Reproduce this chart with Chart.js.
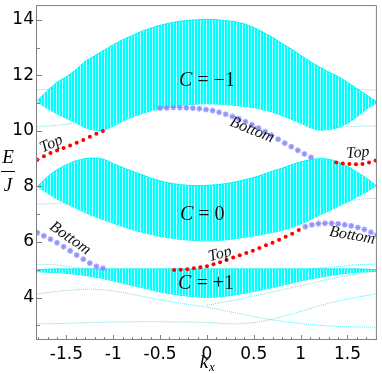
<!DOCTYPE html>
<html>
<head>
<meta charset="utf-8">
<script src="https://cdn.jsdelivr.net/npm/chart.js@4/dist/chart.umd.min.js"></script>
<style>
  html, body { margin: 0; padding: 0; background: #fff; }
  #c { display: block; }
</style>
</head>
<body>
<canvas id="c" width="382" height="374"></canvas>
<script>
// k_x samples used for the band edges
const kGrid = [-1.81,-1.7,-1.6,-1.5,-1.4,-1.3,-1.2,-1.1,-1.0,-0.9,-0.8,-0.7,-0.6,-0.5,-0.4,-0.3,-0.2,-0.1,0,
  0.1,0.2,0.3,0.4,0.5,0.6,0.7,0.8,0.9,1.0,1.1,1.2,1.3,1.4,1.5,1.6,1.7,1.81];

// bulk bands (upper / lower edge), E/J
const topBandHigh = [11.1,11.45,11.75,11.95,12.2,12.5,12.7,12.9,13.1,13.28,13.43,13.58,13.7,13.8,13.88,13.94,13.98,14.0,14.02,
  14.0,13.97,13.93,13.85,13.72,13.55,13.37,13.15,12.95,12.72,12.5,12.3,12.12,11.95,11.75,11.52,11.3,11.05];
const topBandLow = [11.05,10.8,10.62,10.45,10.3,10.12,10.03,10.03,10.18,10.35,10.5,10.62,10.72,10.8,10.86,10.9,10.94,10.97,10.98,
  10.97,10.95,10.92,10.88,10.84,10.76,10.68,10.55,10.42,10.28,10.12,10.03,10.05,10.12,10.28,10.5,10.78,11.0];
const midBandHigh = [8.0,8.35,8.6,8.78,8.92,9.0,9.02,8.97,8.82,8.68,8.55,8.43,8.3,8.2,8.12,8.07,8.04,8.03,8.04,
  8.06,8.1,8.16,8.24,8.32,8.43,8.55,8.65,8.78,8.88,8.96,9.0,8.98,8.88,8.72,8.52,8.3,8.02];
const midBandLow = [8.0,7.75,7.55,7.38,7.22,7.06,6.92,6.8,6.68,6.56,6.45,6.36,6.28,6.2,6.15,6.1,6.07,6.05,6.04,
  6.05,6.08,6.12,6.17,6.22,6.28,6.35,6.42,6.52,6.65,6.8,6.97,7.12,7.28,7.45,7.62,7.8,8.03];
const lowBandHigh = [5.0,5.02,5.03,5.03,5.03,5.03,5.03,5.03,5.03,5.03,5.03,5.03,5.03,5.03,5.03,5.03,5.03,5.03,5.03,
  5.03,5.03,5.03,5.03,5.03,5.03,5.03,5.03,5.03,5.03,5.03,5.03,5.03,5.03,5.03,5.03,5.02,5.0];
const lowBandLow = [4.93,4.91,4.9,4.87,4.84,4.8,4.74,4.68,4.6,4.52,4.44,4.36,4.28,4.2,4.14,4.09,4.05,4.02,4.01,
  4.02,4.05,4.1,4.15,4.22,4.29,4.36,4.44,4.52,4.6,4.67,4.73,4.79,4.84,4.88,4.91,4.93,4.95];

// isolated bulk levels (thin lines)
const thinLines = [
  { k: [-1.81,-1.7,-1.62], e: [11.48,11.5,11.55] },
  { k: [-1.81,-1.6,-1.4], e: [10.15,10.2,10.28] },
  { k: [1.5,1.6,1.7,1.81], e: [11.55,11.5,11.48,11.47] },
  { k: [1.35,1.5,1.65,1.81], e: [10.12,10.15,10.17,10.18] },
  { k: [-1.81,-1.65,-1.45], e: [7.36,7.38,7.42] },
  { k: [1.5,1.65,1.81], e: [7.45,7.55,7.57] },
  { k: [-1.81,-1.6,-1.4,-1.25], e: [5.2,5.17,5.08,5.03] },
  { k: [1.1,1.35,1.6,1.81], e: [5.03,5.1,5.18,5.2] },
  { k: [-1.81,-1.5,-1.2,-0.9,-0.6,-0.3,0,0.3,0.6,0.9,1.2,1.5,1.81], e: [4.13,4.25,4.3,4.18,3.98,3.8,3.65,3.45,3.25,3.1,3.0,2.95,2.93] },
  { k: [-1.81,-1.5,-1.2,-0.9,-0.6,-0.3,0,0.3,0.6,0.9,1.2,1.5,1.81], e: [3.05,3.07,3.1,3.12,3.13,3.12,3.1,3.05,3.15,3.4,3.7,3.95,4.13] },
  { k: [0,0.4,0.8,1.2,1.5,1.81], e: [3.72,3.98,4.28,4.58,4.8,4.95] }
];

// edge states
const topLeftK = [-1.81,-1.74,-1.67,-1.6,-1.53,-1.46,-1.39,-1.32,-1.25,-1.18,-1.11];
const topLeftE = [8.96,9.09,9.2,9.29,9.38,9.47,9.57,9.67,9.79,9.9,10.0];
const topRightK = [1.38,1.45,1.52,1.59,1.66,1.73,1.80];
const topRightE = [8.86,8.83,8.81,8.8,8.81,8.86,8.93];
const bottomUpperK = [-0.5,-0.43,-0.36,-0.29,-0.22,-0.15,-0.08,-0.01,0.06,0.13,0.2,0.27,0.34,0.41,0.48,0.55,0.62,0.69,0.76,0.83,0.9,0.97,1.04,1.11];
const bottomUpperE = [10.82,10.83,10.84,10.84,10.83,10.82,10.8,10.77,10.73,10.67,10.6,10.52,10.44,10.33,10.22,10.1,9.97,9.84,9.7,9.56,9.43,9.3,9.17,9.05];
const topLowK = [-0.35,-0.28,-0.21,-0.14,-0.07,0,0.07,0.14,0.21,0.28,0.35,0.42,0.49,0.56,0.63,0.7,0.77,0.84,0.91,0.98];
const topLowE = [4.99,5.0,5.02,5.05,5.09,5.13,5.2,5.27,5.35,5.44,5.52,5.6,5.68,5.78,5.88,5.97,6.08,6.19,6.3,6.43];
const bottomLowRightK = [1.05,1.12,1.19,1.26,1.33,1.4,1.47,1.54,1.61,1.68,1.75,1.81];
const bottomLowRightE = [6.55,6.62,6.66,6.67,6.67,6.65,6.62,6.58,6.52,6.45,6.35,6.25];
const bottomLowLeftK = [-1.81,-1.74,-1.67,-1.6,-1.53,-1.46,-1.39,-1.32,-1.25,-1.18,-1.11];
const bottomLowLeftE = [6.33,6.22,6.1,5.97,5.83,5.68,5.53,5.38,5.24,5.12,5.05];

const xTickLabels = [-1.5,-1,-0.5,0,0.5,1,1.5];
const yTickLabels = [4,6,8,10,12,14];

const kMax = 1.8138;

// text on the plot, anchored in data coordinates
const notes = [
  { parts: [['C', true], [' = ', false], ['\u22121', false]], k: 0.0, e: 11.8, rot: 0, size: 20 },
  { parts: [['C', true], [' = ', false], ['0', false]], k: -0.05, e: 6.98, rot: 0, size: 20 },
  { parts: [['C', true], [' = ', false], ['+1', false]], k: -0.01, e: 4.5, rot: 0, size: 20 },
  { parts: [['Top', true]], k: -1.66, e: 9.53, rot: -25, size: 16 },
  { parts: [['Bottom', true]], k: 0.48, e: 10.03, rot: 22, size: 16 },
  { parts: [['Top', true]], k: 1.61, e: 9.21, rot: -5, size: 16 },
  { parts: [['Bottom', true]], k: -1.46, e: 6.13, rot: 35, size: 16 },
  { parts: [['Top', true]], k: 0.14, e: 5.56, rot: -15, size: 16 },
  { parts: [['Bottom', true]], k: 1.55, e: 6.23, rot: 10, size: 16 }
];

const zip = (ks, es) => ks.map((k, i) => ({ x: k, y: es[i] }));

const canvas = document.getElementById('c');
const ctx = canvas.getContext('2d');

// striped cyan fill, like the dense vertical level lines
const pc = document.createElement('canvas');
pc.width = 3; pc.height = 1;
const pctx = pc.getContext('2d');
pctx.fillStyle = '#00ffff'; pctx.fillRect(0, 0, 2, 1);
pctx.fillStyle = '#b8ffff'; pctx.fillRect(2, 0, 1, 1);
const stripes = ctx.createPattern(pc, 'repeat');

const datasets = [];

// edge states on top
const redDots = { pointRadius: 2, pointBackgroundColor: '#ff0000', pointBorderWidth: 0, showLine: false, order: 0 };
const blueStars = { pointStyle: 'star', pointRadius: 2.8, pointBorderColor: 'rgba(120,120,255,0.75)', pointBorderWidth: 1.1, showLine: false, order: 0 };
const blueHalo = { pointRadius: 3, pointBackgroundColor: 'rgba(190,190,255,0.5)', pointBorderWidth: 0, showLine: false, order: 1 };
datasets.push(Object.assign({ data: zip(topLeftK, topLeftE) }, redDots));
datasets.push(Object.assign({ data: zip(topRightK, topRightE) }, redDots));
datasets.push(Object.assign({ data: zip(topLowK, topLowE) }, redDots));
[[bottomUpperK, bottomUpperE], [bottomLowRightK, bottomLowRightE], [bottomLowLeftK, bottomLowLeftE]].forEach(([k, e]) => {
  datasets.push(Object.assign({ data: zip(k, e) }, blueStars));
  datasets.push(Object.assign({ data: zip(k, e) }, blueHalo));
});

thinLines.forEach(l => {
  datasets.push({ data: zip(l.k, l.e), showLine: true, pointRadius: 0, borderColor: 'rgba(0,220,235,0.65)',
    borderWidth: 1, borderDash: [1, 1], tension: 0.35, fill: false, order: 2 });
});

[[topBandHigh, topBandLow], [midBandHigh, midBandLow], [lowBandHigh, lowBandLow]].forEach(([hi, lo]) => {
  datasets.push({ data: zip(kGrid, hi), showLine: true, pointRadius: 0, borderColor: '#00f0f0', borderWidth: 1,
    tension: 0.3, fill: '+1', backgroundColor: stripes, order: 3 });
  datasets.push({ data: zip(kGrid, lo), showLine: true, pointRadius: 0, borderColor: '#00f0f0', borderWidth: 1,
    tension: 0.3, fill: false, order: 3 });
});

const decor = {
  id: 'decor',
  afterDraw(chart) {
    const c = chart.ctx, a = chart.chartArea, xs = chart.scales.x, ys = chart.scales.y;
    c.save();
    c.strokeStyle = '#808080';
    c.lineWidth = 1;
    c.strokeRect(a.left - 0.5, a.top + 0.5, a.right - a.left, a.bottom - a.top - 1);
    // inward ticks
    c.beginPath();
    for (let i = -18; i <= 18; i++) {
      const v = i / 10;
      const px = Math.round(xs.getPixelForValue(v)) + 0.5;
      const len = (i % 5 === 0) ? 5 : 3;
      c.moveTo(px, a.bottom); c.lineTo(px, a.bottom - len);
    }
    for (let v = 3; v <= 14; v++) {
      const py = Math.round(ys.getPixelForValue(v)) + 0.5;
      const len = (v % 2 === 0) ? 5 : 3;
      c.moveTo(a.left, py); c.lineTo(a.left + len, py);
    }
    c.stroke();

    // annotations
    c.fillStyle = '#111';
    c.textBaseline = 'middle';
    notes.forEach(n => {
      const fontOf = it => (it ? 'italic ' : '') + n.size + 'px "Liberation Serif", serif';
      let w = 0;
      n.parts.forEach(([t, it]) => { c.font = fontOf(it); w += c.measureText(t).width; });
      c.save();
      c.translate(xs.getPixelForValue(n.k), ys.getPixelForValue(n.e));
      c.rotate(n.rot * Math.PI / 180);
      let x = -w / 2;
      c.textAlign = 'left';
      n.parts.forEach(([t, it]) => { c.font = fontOf(it); c.fillText(t, x, 0); x += c.measureText(t).width; });
      c.restore();
    });

    // axis titles
    c.fillStyle = '#000';
    c.textAlign = 'center';
    c.font = 'italic 19px "Liberation Serif", serif';
    c.fillText('E', 8, 158);
    c.fillText('J', 8, 186);
    c.fillRect(1, 171, 14, 1);
    const kx = xs.getPixelForValue(0);
    c.font = 'italic 19px "Liberation Serif", serif';
    c.fillText('k', kx - 3, 363);
    c.font = 'italic 13px "Liberation Serif", serif';
    c.fillText('x', kx + 5, 368);
    c.restore();
  }
};

new Chart(canvas, {
  type: 'scatter',
  data: { datasets: datasets },
  options: {
    responsive: false,
    animation: false,
    devicePixelRatio: 1,
    layout: { padding: { top: 0, right: 1, bottom: 0, left: 0 } },
    plugins: { legend: { display: false }, tooltip: { enabled: false } },
    scales: {
      x: {
        type: 'linear', min: -kMax, max: kMax,
        afterBuildTicks: s => { s.ticks = xTickLabels.map(v => ({ value: v })); },
        afterFit: s => { s.height = 34; s.paddingLeft = 0; s.paddingRight = 0; },
        grid: { display: false, drawTicks: false },
        border: { display: false },
        ticks: { color: '#000', padding: 4, maxRotation: 0, autoSkip: false,
          font: { family: 'DejaVu Sans', size: 17 }, callback: v => String(v) }
      },
      y: {
        type: 'linear', min: 2.47, max: 14.53,
        afterBuildTicks: s => { s.ticks = yTickLabels.map(v => ({ value: v })); },
        afterFit: s => { s.width = 37; s.paddingTop = 0; s.paddingBottom = 0; },
        grid: { display: false, drawTicks: false },
        border: { display: false },
        ticks: { color: '#000', padding: 3, font: { family: 'DejaVu Sans', size: 17 }, callback: v => String(v) }
      }
    }
  },
  plugins: [decor]
});
</script>
</body>
</html>
